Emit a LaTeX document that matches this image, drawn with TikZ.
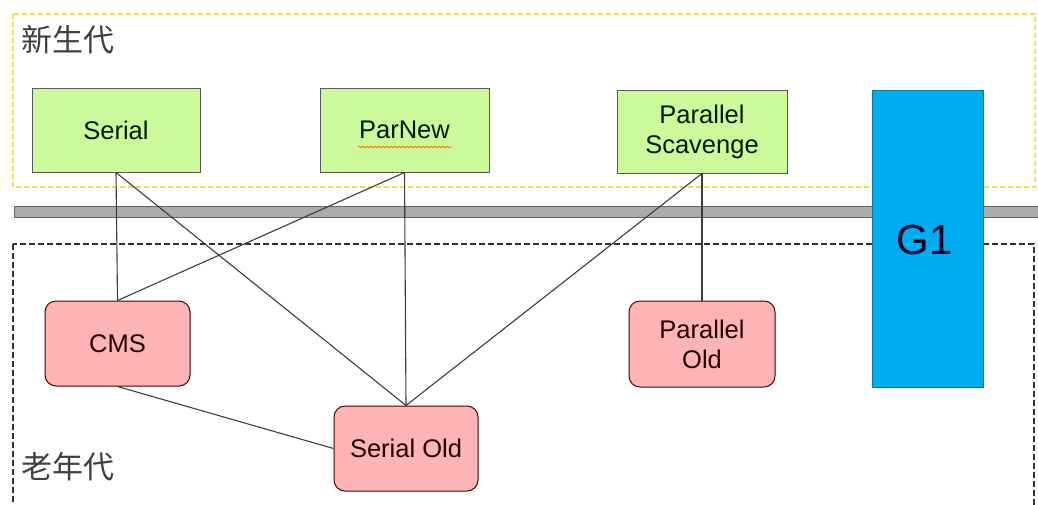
\documentclass[tikz,border=0pt]{standalone}
\usepackage{fontspec}
\setmainfont{Liberation Sans}
\newfontfamily\cjk{Noto Sans CJK SC}
\usetikzlibrary{decorations.pathmorphing}
\definecolor{younggreen}{HTML}{CCF99A}
\definecolor{oldpink}{HTML}{FDB4B4}
\definecolor{gonecyan}{HTML}{00AEEF}
\definecolor{zoneyellow}{HTML}{EDDC55}
\definecolor{linkgray}{HTML}{3C3C3C}
\tikzset{
  young/.style={draw=black!65, line width=1pt, fill=younggreen, text=black!85!green!60!black,
    font=\fontsize{25.5}{30}\selectfont, align=center, inner sep=0pt},
  old/.style={draw=black!55!red!60!black, line width=1pt, fill=oldpink, rounded corners=11pt,
    text=black!80!red!70!black, font=\fontsize{25.5}{30}\selectfont, align=center, inner sep=0pt},
  link/.style={draw=linkgray, line width=1.1pt},
  zonelabel/.style={font=\cjk\fontsize{31}{34}\selectfont, text=black!75, anchor=west, inner sep=0pt}
}
\begin{document}
\begin{tikzpicture}[x=1pt, y=-1pt]
  \useasboundingbox (0,0) rectangle (1038,504);
  \clip (0,0) rectangle (1038,504);
  % young generation zone
  \draw[zoneyellow, line width=1.3pt, dash pattern=on 5pt off 3pt] (13,14) rectangle (1035,187);
  \node[zonelabel] (younglabel) at (21,40) {新生代};
  % old generation zone (continues below the frame)
  \draw[black!80, line width=1.6pt, dash pattern=on 6pt off 3pt] (13,244) rectangle (1034,530);
  \node[zonelabel] (oldlabel) at (21,467) {老年代};
  % separator bar
  \draw[black!60, fill=black!33, line width=1pt] (14,206) rectangle (1045,217);
  % G1 spans both generations
  \node[draw=gonecyan!70!black, line width=0.9pt, fill=gonecyan, minimum width=111pt, minimum height=297pt,
        inner sep=0pt] (g1) at (927.5,238.5) {};
  \node[font=\fontsize{42}{42}\selectfont, text=black!85!blue] (g1text) at (925,240) {G1};
  % young collectors
  \node[young, minimum width=168pt, minimum height=84pt] (serial) at (116,130) {Serial};
  \node[young, minimum width=169pt, minimum height=84pt] (parnew) at (404.5,130) {ParNew};
  \node[young, minimum width=170pt, minimum height=83pt] (ps) at (702,131.5) {Parallel\\Scavenge};
  % old collectors
  \node[old, minimum width=145pt, minimum height=85pt] (cms) at (117.5,343.5) {CMS};
  \node[old, minimum width=146pt, minimum height=86pt] (po) at (702,344) {Parallel\\Old};
  \node[old, minimum width=144pt, minimum height=85pt] (so) at (406,448.5) {Serial Old};
  % spell-check squiggle under ParNew
  \coordinate (sqa) at (358,147);
  \coordinate (sqb) at (452,147);
  \draw[orange!90!red, line width=0.8pt, decorate, decoration={snake, amplitude=0.9pt, segment length=4pt}] (sqa) -- (sqb);
  % valid collector pairings
  \draw[link] (serial.south) -- (cms.north);
  \draw[link] (serial.south) -- (so.north);
  \draw[link] (parnew.south) -- (cms.north);
  \draw[link] (parnew.south) -- (so.north);
  \draw[link] (ps.south) -- (so.north);
  \draw[link] (ps.south) -- (po.north);
  \draw[link] (cms.south) -- (so.west);
\end{tikzpicture}
\end{document}
